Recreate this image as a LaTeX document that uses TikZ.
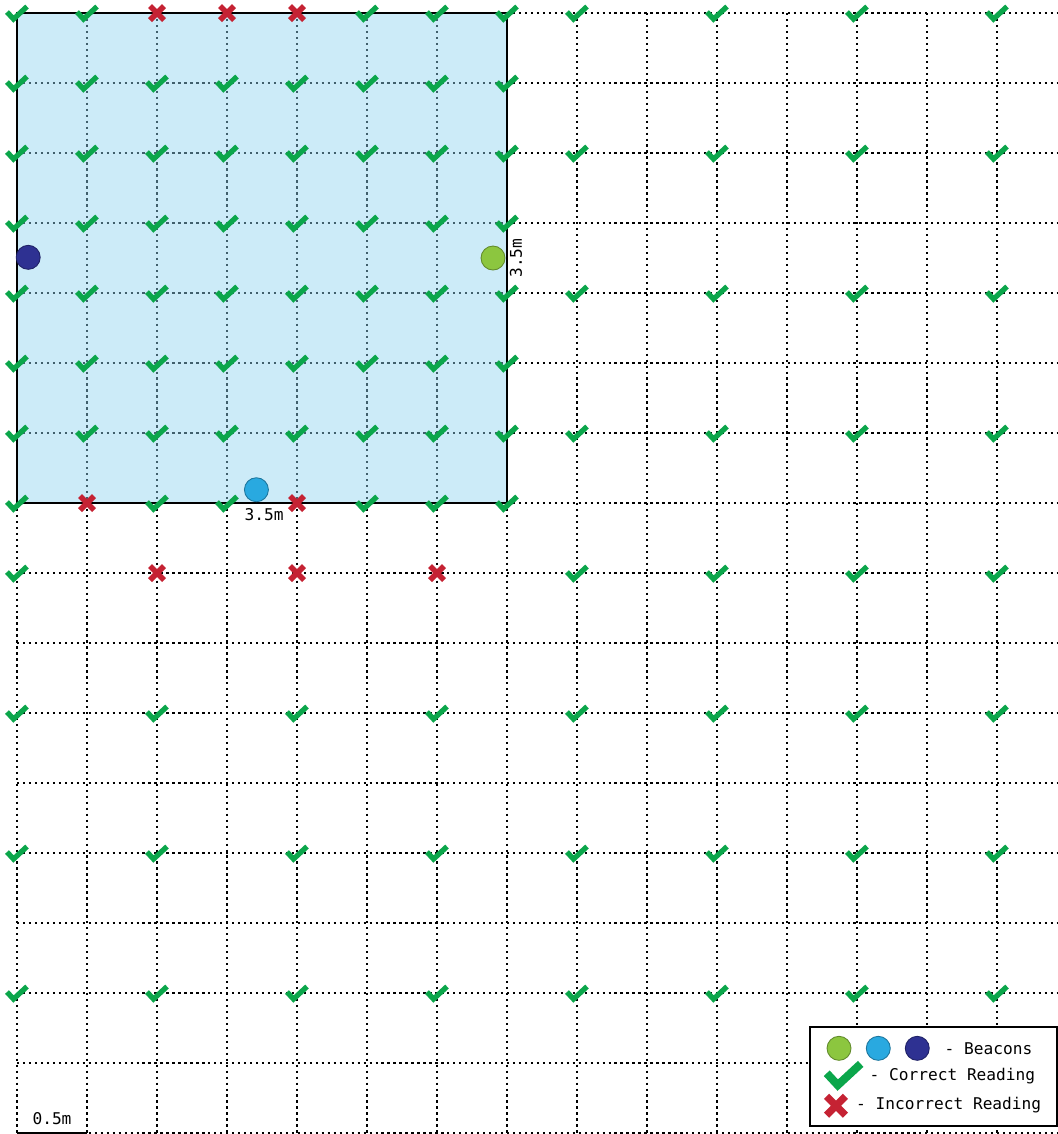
\documentclass[tikz,border=0pt]{standalone}
\usepackage{fontspec}
\setmonofont{DejaVu Sans Mono}
\definecolor{roomfill}{HTML}{8ED3F0}
\definecolor{okgreen}{HTML}{0BA64B}
\definecolor{badred}{HTML}{C52233}
\definecolor{beacongreen}{HTML}{8CC63F}
\definecolor{beaconblue}{HTML}{29A9E0}
\definecolor{beacondark}{HTML}{2E3192}

\begin{document}
\begin{tikzpicture}[x=1.4cm, y=-1.4cm, font=\ttfamily\fontsize{9.2}{11}\selectfont,
  gridline/.style={line width=1.3pt, dash pattern=on 1.3pt off 2.1pt},
  beacon/.style={circle, minimum size=0.48cm, inner sep=0pt, line width=0.5pt},
  okstroke/.style={line width=3pt},
  badstroke/.style={line width=3.2pt},
  pics/okmark/.style={code={\draw[okgreen, line join=miter] (-0.2cm,0.02cm) -- (-0.07cm,-0.12cm) -- (0.2cm,0.13cm);}},
  pics/badmark/.style={code={\draw[badred] (-0.14cm,-0.14cm) -- (0.14cm,0.14cm) (-0.14cm,0.14cm) -- (0.14cm,-0.14cm);}}]
  \useasboundingbox (-0.243,-0.186) rectangle (14.871,16.014);
  \foreach \c in {0,...,14} \draw[gridline] (\c,0) -- (\c,16);
  \foreach \r in {0,...,16} \draw[gridline] (0,\r) -- (14.87,\r);
  \fill[roomfill, fill opacity=.45] (0,0) rectangle (7,7);
  \draw[line width=.9pt] (0,0) rectangle (7,7);
  \draw[line width=.9pt] (0,16) -- (1,16);
  \foreach \r in {1,...,6}
    \foreach \c in {0,...,7} \pic[okstroke] at (\c,\r) {okmark};
  \foreach \r in {0,2,4,6,8,10,12,14}
    \foreach \c in {8,10,12,14} \pic[okstroke] at (\c,\r) {okmark};
  \foreach \r in {10,12,14}
    \foreach \c in {0,2,4,6} \pic[okstroke] at (\c,\r) {okmark};
  \foreach \c/\r in {0/0,1/0,5/0,6/0,7/0,0/7,2/7,3/7,5/7,6/7,7/7,0/8}
    \pic[okstroke] at (\c,\r) {okmark};
  \foreach \c/\r in {2/0,3/0,4/0,1/7,4/7,2/8,4/8,6/8}
    \pic[badstroke] at (\c,\r) {badmark};
  \node[beacon, fill=beacondark, draw=beacondark!70!black] (bdark) at (0.16,3.49) {};
  \node[beacon, fill=beacongreen, draw=beacongreen!70!black] (bgreen) at (6.8,3.5) {};
  \node[beacon, fill=beaconblue, draw=beaconblue!70!black] (bblue) at (3.42,6.81) {};
  \node[rotate=90, inner sep=0pt] (sidelen) at (7.13,3.5) {3.5m};
  \node[inner sep=0pt] (baselen) at (3.53,7.16) {3.5m};
  \node[inner sep=0pt] (scalelen) at (0.5,15.8) {0.5m};
  \draw[line width=1.2pt, fill=white] (11.33,14.486) rectangle (14.853,15.9);
  \node[beacon, fill=beacongreen, draw=beacongreen!70!black] (lgreen) at (11.743,14.79) {};
  \node[beacon, fill=beaconblue, draw=beaconblue!70!black] (lblue) at (12.304,14.79) {};
  \node[beacon, fill=beacondark, draw=beacondark!70!black] (ldark) at (12.861,14.79) {};
  \node[anchor=west, inner sep=0pt] (lbeacons) at (13.247,14.79) {- Beacons};
  \pic[line width=4.6pt, scale=1.7] at (11.81,15.17) {okmark};
  \node[anchor=west, inner sep=0pt] (lcorrect) at (12.176,15.19) {- Correct Reading};
  \pic[line width=4.2pt, scale=1.35] at (11.7,15.61) {badmark};
  \node[anchor=west, inner sep=0pt] (lwrong) at (11.984,15.6) {- Incorrect Reading};
\end{tikzpicture}
\end{document}
